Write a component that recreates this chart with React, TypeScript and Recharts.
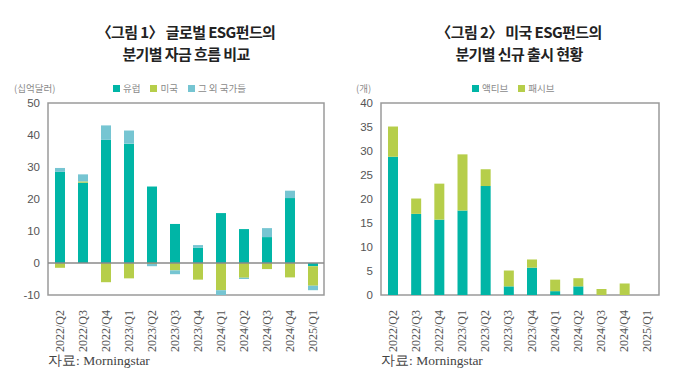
import { BarChart, Bar, XAxis, YAxis, ReferenceArea, ReferenceLine } from "recharts";

const quarters = [
  "2022/Q2", "2022/Q3", "2022/Q4", "2023/Q1", "2023/Q2", "2023/Q3",
  "2023/Q4", "2024/Q1", "2024/Q2", "2024/Q3", "2024/Q4", "2025/Q1",
];

// 그림 1: 자금 흐름 (십억달러)
const europe = [28.5, 25.1, 38.5, 37.3, 23.9, 12.2, 4.8, 15.6, 10.6, 8.1, 20.3, -1.0];
const us = [-1.5, 0.4, -6.0, -4.8, -0.3, -2.3, -5.2, -8.5, -4.6, -1.9, -4.5, -6.1];
const others = [1.2, 2.2, 4.5, 4.1, -0.7, -1.2, 0.8, -1.5, -0.4, 2.8, 2.3, -1.4];
const flowTicks = [-10, 0, 10, 20, 30, 40, 50];

// 그림 2: 신규 출시 (개)
const active = [28.8, 16.9, 15.7, 17.6, 22.7, 1.8, 5.7, 0.8, 1.8, 0, 0, 0];
const passive = [6.3, 3.2, 7.5, 11.7, 3.5, 3.3, 1.7, 2.4, 1.7, 1.25, 2.4, 0];
const countTicks = [0, 5, 10, 15, 20, 25, 30, 35, 40];

const TEAL = "#00b5a6";
const GREEN = "#b6ce4a";
const CYAN = "#76c5d2";
const BOX = "#9a9a9a";

const SANS = "'Liberation Sans', Arial, sans-serif";
const SERIF = "'Liberation Serif', 'Times New Roman', serif";
const KR = "'Noto Sans CJK KR', sans-serif";

const flowData = quarters.map((q, i) => ({ q, europe: europe[i], us: us[i], others: others[i] }));
const countData = quarters.map((q, i) => ({ q, active: active[i], passive: passive[i] }));

function QuarterTick({ x, y, payload }: any) {
  return (
    <text
      x={x}
      y={y}
      transform={`rotate(-90 ${x} ${y})`}
      dx={-7}
      dy={4}
      textAnchor="end"
      style={{ fontFamily: SERIF, fontSize: 12 }}
      fill="#555"
    >
      {payload.value}
    </text>
  );
}

function LegendItem({ color, label }: { color: string; label: string }) {
  return (
    <span style={{ display: "inline-flex", alignItems: "center", marginRight: 10 }}>
      <span style={{ width: 7, height: 7, background: color, marginRight: 3 }} />
      {label}
    </span>
  );
}

const smallText: React.CSSProperties = {
  position: "absolute",
  fontFamily: KR,
  fontSize: 9.5,
  color: "#8a8a8a",
  whiteSpace: "nowrap",
  lineHeight: "12px",
};

const titleStyle: React.CSSProperties = {
  position: "absolute",
  top: 21,
  width: 300,
  textAlign: "center",
  fontFamily: KR,
  fontWeight: 700,
  fontSize: 15,
  lineHeight: "22px",
  color: "#222",
  letterSpacing: -0.6,
};

const sourceStyle: React.CSSProperties = {
  position: "absolute",
  top: 352,
  fontFamily: SERIF,
  fontSize: 13.5,
  color: "#444",
  whiteSpace: "nowrap",
};

export default function App() {
  return (
    <div style={{ position: "absolute", left: 0, top: 0, width: 680, height: 386, background: "#fff" }}>
      <div style={{ ...titleStyle, left: 36 }}>
        〈그림 1〉 글로벌 ESG펀드의
        <br />
        분기별 자금 흐름 비교
      </div>
      <div style={{ ...titleStyle, left: 369 }}>
        〈그림 2〉 미국 ESG펀드의
        <br />
        분기별 신규 출시 현황
      </div>

      <div style={{ ...smallText, left: 14, top: 82 }}>(십억달러)</div>
      <div style={{ ...smallText, left: 113, top: 82, display: "flex" }}>
        <LegendItem color={TEAL} label="유럽" />
        <LegendItem color={GREEN} label="미국" />
        <LegendItem color={CYAN} label="그 외 국가들" />
      </div>
      <div style={{ ...smallText, left: 356, top: 82 }}>(개)</div>
      <div style={{ ...smallText, left: 472, top: 82, display: "flex" }}>
        <LegendItem color={TEAL} label="액티브" />
        <LegendItem color={GREEN} label="패시브" />
      </div>

      <div style={{ position: "absolute", left: 0, top: 0 }}>
        <BarChart
          width={340}
          height={386}
          data={flowData}
          stackOffset="sign"
          margin={{ top: 103, right: 16, left: 8, bottom: 41 }}
        >
          <XAxis
            dataKey="q"
            interval={0}
            height={50}
            tick={<QuarterTick />}
            tickLine={false}
            axisLine={false}
          />
          <YAxis
            width={40}
            domain={[-10, 50]}
            ticks={flowTicks}
            interval={0}
            tickLine={false}
            axisLine={false}
            tick={{ fontFamily: SANS, fontSize: 11.5, fill: "#555" }}
            tickMargin={2}
          />
          <ReferenceArea y1={-10} y2={50} fill="none" stroke={BOX} strokeWidth={1.5} />
          <ReferenceLine y={0} stroke="#8a8a8a" strokeWidth={1.5} />
          <Bar dataKey="europe" stackId="a" fill={TEAL} barSize={10} isAnimationActive={false} />
          <Bar dataKey="us" stackId="a" fill={GREEN} barSize={10} isAnimationActive={false} />
          <Bar dataKey="others" stackId="a" fill={CYAN} barSize={10} isAnimationActive={false} />
        </BarChart>
      </div>

      <div style={{ position: "absolute", left: 340, top: 0 }}>
        <BarChart
          width={340}
          height={386}
          data={countData}
          margin={{ top: 103, right: 21, left: 8, bottom: 41 }}
        >
          <XAxis
            dataKey="q"
            interval={0}
            height={50}
            tick={<QuarterTick />}
            tickLine={false}
            axisLine={false}
          />
          <YAxis
            width={33}
            domain={[0, 40]}
            ticks={countTicks}
            interval={0}
            tickLine={false}
            axisLine={false}
            tick={{ fontFamily: SANS, fontSize: 11.5, fill: "#555" }}
            tickMargin={2}
          />
          <ReferenceArea y1={0} y2={40} fill="none" stroke={BOX} strokeWidth={1.5} />
          <Bar dataKey="active" stackId="b" fill={TEAL} barSize={10} isAnimationActive={false} />
          <Bar dataKey="passive" stackId="b" fill={GREEN} barSize={10} isAnimationActive={false} />
        </BarChart>
      </div>

      <div style={{ ...sourceStyle, left: 48 }}>자료: Morningstar</div>
      <div style={{ ...sourceStyle, left: 381 }}>자료: Morningstar</div>
    </div>
  );
}
